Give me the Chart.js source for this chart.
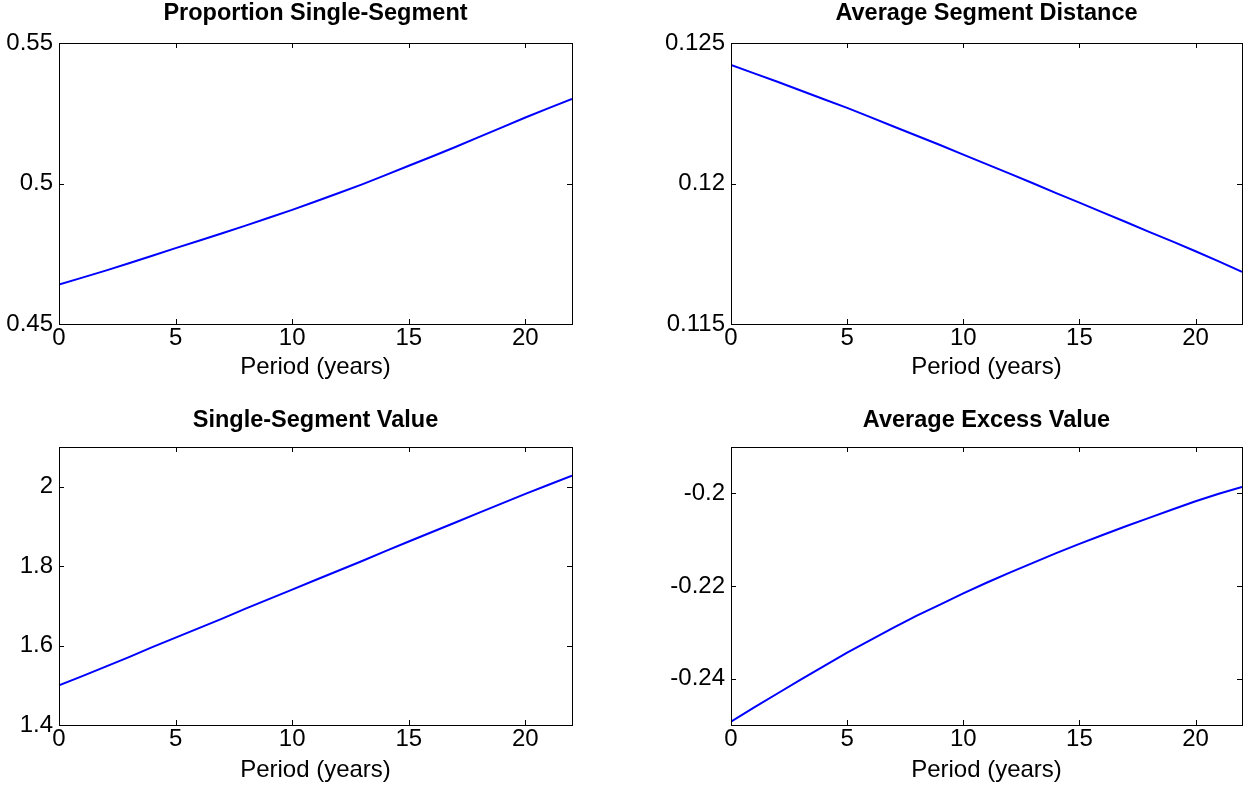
<!DOCTYPE html>
<html>
<head>
<meta charset="utf-8">
<script src="https://cdn.jsdelivr.net/npm/chart.js@4.4.0/dist/chart.umd.min.js"></script>
<style>
  html, body { margin: 0; padding: 0; background: #fff; }
  #fig { position: relative; width: 1248px; height: 787px; overflow: hidden; }
  #fig canvas { position: absolute; }
</style>
</head>
<body>
<div id="fig">
  <canvas id="p1" width="600" height="390" style="left:0;top:0"></canvas>
  <canvas id="p2" width="628" height="390" style="left:620px;top:0"></canvas>
  <canvas id="p3" width="600" height="397" style="left:0;top:390px"></canvas>
  <canvas id="p4" width="628" height="397" style="left:620px;top:390px"></canvas>
</div>
<script>
// period in years
const years = [0, 1, 2, 3, 4, 5, 6, 7, 8, 9, 10, 11, 12, 13, 14, 15, 16, 17, 18, 19, 20, 21, 22];
const xTicks = [0, 5, 10, 15, 20];

const proportionSingle = [0.4640, 0.4665, 0.4690, 0.4716, 0.4743, 0.4770, 0.4796, 0.4823, 0.4850, 0.4878,
  0.4906, 0.4936, 0.4966, 0.4997, 0.5030, 0.5063, 0.5096, 0.5130, 0.5165, 0.5200, 0.5235, 0.5268, 0.5301];
const avgSegmentDistance = [0.12422, 0.12392, 0.12362, 0.12331, 0.12300, 0.12269, 0.12236, 0.12203, 0.12170,
  0.12137, 0.12103, 0.12069, 0.12035, 0.12001, 0.11966, 0.11932, 0.11897, 0.11863, 0.11828, 0.11794, 0.11759,
  0.11723, 0.11686];
const singleSegmentValue = [1.500, 1.523, 1.547, 1.571, 1.596, 1.620, 1.644, 1.668, 1.693, 1.717, 1.741, 1.765,
  1.789, 1.813, 1.838, 1.862, 1.886, 1.910, 1.934, 1.958, 1.982, 2.005, 2.028];
const avgExcessValue = [-0.2493, -0.2462, -0.2432, -0.2402, -0.2373, -0.2344, -0.2317, -0.2290, -0.2264, -0.2240,
  -0.2216, -0.2193, -0.2171, -0.2150, -0.2129, -0.2109, -0.2090, -0.2071, -0.2053, -0.2035, -0.2017, -0.2001, -0.1986];

const yTicks1 = [0.45, 0.5, 0.55];
const yTicks2 = [0.115, 0.12, 0.125];
const yTicks3 = [1.4, 1.6, 1.8, 2];
const yTicks4 = [-0.24, -0.22, -0.2];

const FONT = '"Liberation Sans", Arial, Helvetica, sans-serif';

// box around the axes with ticks pointing inward on all four sides
const boxTicks = {
  id: 'boxTicks',
  afterDatasetsDraw(chart) {
    const { ctx, chartArea: a, scales: { x, y } } = chart;
    const len = 5;
    ctx.save();
    ctx.strokeStyle = '#000';
    ctx.lineWidth = 1;
    ctx.beginPath();
    x.ticks.forEach(t => {
      const px = Math.round(x.getPixelForValue(t.value)) + 0.5;
      ctx.moveTo(px, a.bottom); ctx.lineTo(px, a.bottom - len);
      ctx.moveTo(px, a.top); ctx.lineTo(px, a.top + len);
    });
    y.ticks.forEach(t => {
      const py = Math.round(y.getPixelForValue(t.value)) + 0.5;
      ctx.moveTo(a.left, py); ctx.lineTo(a.left + len, py);
      ctx.moveTo(a.right, py); ctx.lineTo(a.right - len, py);
    });
    ctx.stroke();
    ctx.strokeRect(Math.round(a.left) + 0.5, Math.round(a.top) + 0.5,
      Math.round(a.right - a.left), Math.round(a.bottom - a.top));
    ctx.restore();
  }
};

function makePanel(id, title, values, yMin, yMax, yTicks, g) {
  const points = years.map((yr, i) => ({ x: yr, y: values[i] }));
  return new Chart(document.getElementById(id), {
    type: 'line',
    data: {
      datasets: [{
        data: points,
        borderColor: '#0000ff',
        borderWidth: 2,
        pointRadius: 0,
        tension: 0,
        fill: false
      }]
    },
    options: {
      responsive: false,
      animation: false,
      devicePixelRatio: 1,
      layout: { padding: { left: 0, right: g.padRight, top: 0, bottom: 0 } },
      plugins: {
        legend: { display: false },
        tooltip: { enabled: false },
        title: {
          display: true,
          text: title,
          fullSize: false,
          color: '#000',
          font: { family: FONT, size: 23.5, weight: 'bold', lineHeight: 1 },
          padding: { top: g.titleTop, bottom: g.titleBottom }
        }
      },
      scales: {
        x: {
          type: 'linear',
          min: 0,
          max: 22,
          grid: { display: false, drawTicks: false },
          border: { display: false },
          afterBuildTicks: s => { s.ticks = xTicks.map(v => ({ value: v })); },
          afterFit: s => { s.height = g.xHeight; },
          ticks: {
            color: '#000',
            padding: 0,
            maxRotation: 0,
            font: { family: FONT, size: 24 },
            callback: v => String(v)
          },
          title: {
            display: true,
            text: 'Period (years)',
            color: '#000',
            font: { family: FONT, size: 24, lineHeight: 1.2 },
            padding: { top: 0, bottom: g.xTitleBottom }
          }
        },
        y: {
          type: 'linear',
          min: yMin,
          max: yMax,
          grid: { display: false, drawTicks: false },
          border: { display: false },
          afterBuildTicks: s => { s.ticks = yTicks.map(v => ({ value: v })); },
          afterFit: s => { s.width = g.yWidth; },
          ticks: {
            color: '#000',
            padding: 6,
            font: { family: FONT, size: 24 },
            callback: v => String(Number(v.toFixed(4)))
          }
        }
      }
    },
    plugins: [boxTicks]
  });
}

const topGeom = { yWidth: 59, padRight: 28, titleTop: 2.2, titleBottom: 17.3, xHeight: 66, xTitleBottom: 8.6 };
const topGeomR = { yWidth: 111, padRight: 6, titleTop: 2.2, titleBottom: 17.3, xHeight: 66, xTitleBottom: 8.6 };
const botGeom = { yWidth: 59, padRight: 28, titleTop: 19.2, titleBottom: 14.3, xHeight: 62, xTitleBottom: 2.6 };
const botGeomR = { yWidth: 111, padRight: 6, titleTop: 19.2, titleBottom: 14.3, xHeight: 62, xTitleBottom: 2.6 };

makePanel('p1', 'Proportion Single-Segment', proportionSingle, 0.45, 0.55, yTicks1, topGeom);
makePanel('p2', 'Average Segment Distance', avgSegmentDistance, 0.115, 0.125, yTicks2, topGeomR);
makePanel('p3', 'Single-Segment Value', singleSegmentValue, 1.4, 2.1, yTicks3, botGeom);
makePanel('p4', 'Average Excess Value', avgExcessValue, -0.25, -0.19, yTicks4, botGeomR);
</script>
</body>
</html>
